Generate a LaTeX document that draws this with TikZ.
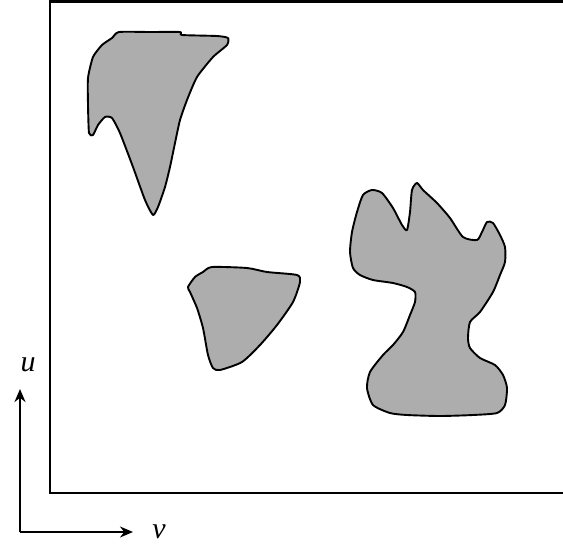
\documentclass[tikz,border=0pt]{standalone}
\usepackage{fontspec}
\setmainfont{Liberation Serif}
\usetikzlibrary{arrows.meta}
\tikzset{
  blob/.style={draw=black, line width=1.9pt, fill=black!32, line join=round},
  frame/.style={draw=black, line width=2.6pt},
  axis/.style={draw=black, line width=2.4pt, -{Stealth[length=13pt,width=11pt]}},
  axlabel/.style={font=\fontsize{30}{32}\selectfont\itshape, inner sep=0pt}
}
\begin{document}
\begin{tikzpicture}[x=1pt,y=-1pt]
\useasboundingbox (0,0) rectangle (563,550);
% frame (open on the right)
\draw[frame] (566,1.5) -- (50,1.5) -- (50,493) -- (566,493);
% shape 1
\draw[blob] plot[smooth cycle, tension=0.35] coordinates {
 (119,32) (150,32) (180,32) (182,35) (217,36) (228,38) (227,45) (213,57) (197,77)
 (187,100) (180,120) (175,143) (170,167) (165,187) (158,207) (153,215)
 (145,200) (133,167) (120,133) (112,118) (105,117) (98,125) (93,135) (89,133)
 (88,105) (88,78) (93,57) (102,45) (112,38)};
% shape 2
\draw[blob] plot[smooth cycle, tension=0.4] coordinates {
 (212,267) (247,268) (267,272) (297,275) (300,282) (293,302) (277,325) (260,345)
 (242,362) (220,370) (213,368) (208,355) (203,328) (197,308) (190,292) (188,287)
 (195,277) (203,272)};
% shape 3
\draw[blob] plot[smooth cycle, tension=0.4] coordinates {
 (372,190) (382,193) (393,208) (402,225) (407,230) (410,212) (412,190) (417,183)
 (423,190) (437,203) (450,218) (463,237) (477,240) (482,232) (487,222) (493,223)
 (500,235) (505,247) (505,262) (500,275) (493,292) (480,312) (470,322) (468,338)
 (470,348) (480,358) (495,365) (503,375) (507,388) (505,405) (497,413) (473,415)
 (440,416) (407,415) (390,413) (373,405) (367,388) (370,372) (383,355) (393,345)
 (403,332) (410,315) (415,302) (415,292) (407,287) (393,283) (373,280) (360,275)
 (353,268) (350,252) (352,232) (357,212) (363,195)};
% axes
\coordinate (o) at (20,532);
\coordinate (uend) at (20,389);
\coordinate (vend) at (133,532);
\draw[axis] (o) -- (uend);
\draw[axis] (o) -- (vend);
\node[axlabel] (u) at (28,365) {u};
\node[axlabel] (v) at (159,532) {v};
\end{tikzpicture}
\end{document}
